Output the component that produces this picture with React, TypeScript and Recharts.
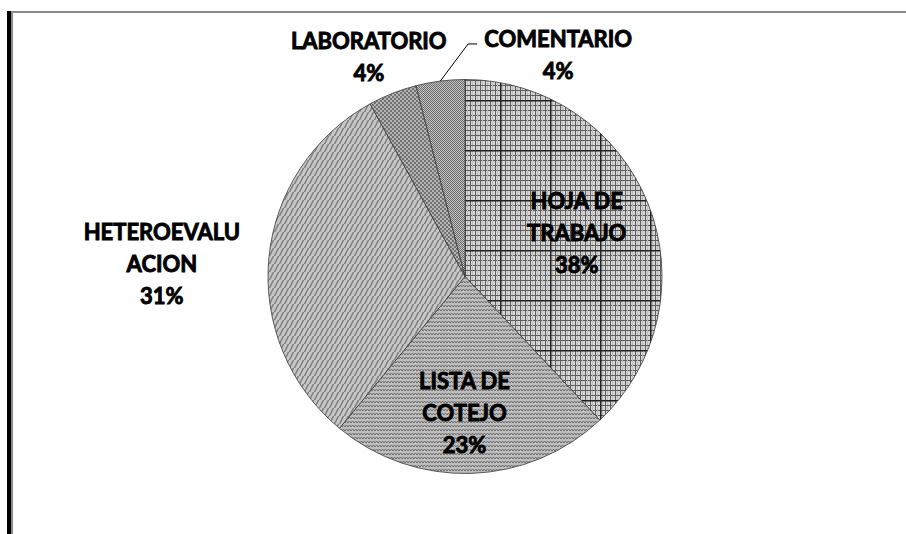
import React from 'react';
import { PieChart, Pie, Cell } from 'recharts';

const categories = ['HOJA DE TRABAJO', 'LISTA DE COTEJO', 'HETEROEVALUACION', 'LABORATORIO', 'COMENTARIO'];
const labelLines = [['HOJA DE', 'TRABAJO'], ['LISTA DE', 'COTEJO'], ['HETEROEVALU', 'ACION'], ['LABORATORIO'], ['COMENTARIO']];
const values = [38, 23, 31, 4, 4];
const patternIds = ['patHoja', 'patLista', 'patHetero', 'patLab', 'patCom'];

// label placement: radius factor and angle shift (degrees, counter-clockwise)
const labelPlacement = [
  { r: 0.61, shift: 0 },
  { r: 0.69, shift: -2 },
  { r: 1.54, shift: 3 },
  { r: 1.22, shift: 2 },
  { r: 1.22, shift: -30 },
];

const data = categories.map((name, i) => ({ name, value: values[i], lines: labelLines[i] }));
const total = values.reduce((a, b) => a + b, 0);

const RAD = Math.PI / 180;
const FONT = 'Lato, "Liberation Sans", sans-serif';
const LINE_H = 32;

const renderLabel = (props: any) => {
  const { cx, cy, midAngle, outerRadius, index } = props;
  const p = labelPlacement[index];
  const a = (midAngle + p.shift) * RAD;
  const x = cx + outerRadius * p.r * Math.cos(a);
  const y = cy - outerRadius * p.r * Math.sin(a);
  const lines = [...labelLines[index], `${Math.round((values[index] / total) * 100)}%`];
  const n = lines.length;
  const y0 = y - ((n - 1) * LINE_H) / 2;
  let leader = null;
  if (index === 4) {
    const ex = cx + outerRadius * Math.cos(midAngle * RAD);
    const ey = cy - outerRadius * Math.sin(midAngle * RAD);
    const endX = x - 81;
    const endY = y0 + 5;
    leader = (
      <polyline
        points={`${ex},${ey} ${endX - 9},${endY} ${endX},${endY}`}
        fill="none"
        stroke="#000"
        strokeWidth={1}
      />
    );
  }
  return (
    <g key={`lbl-${index}`}>
      {leader}
      {lines.map((t, i) => (
        <text
          key={i}
          x={x}
          y={y0 + i * LINE_H}
          textAnchor="middle"
          dominantBaseline="central"
          fontFamily={FONT}
          fontWeight={700}
          fontSize={22}
          fill="#000"
          stroke="#000"
          strokeWidth={0.9}
        >
          {t}
        </text>
      ))}
    </g>
  );
};

export default function App() {
  return (
    <div style={{ position: 'absolute', left: 0, top: 0, width: 906, height: 534, background: '#fff' }}>
      <svg width={0} height={0} style={{ position: 'absolute' }}>
        <defs>
          <pattern id="patHoja" patternUnits="userSpaceOnUse" width={50} height={50}>
            <rect width={50} height={50} fill="#d6d6d6" />
            {[0, 5, 10, 15, 20, 25, 30, 35, 40, 45].map((v) => (
              <g key={v}>
                <rect x={v + 2} y={0} width={1} height={50} fill="#bcbcbc" />
                <rect x={v} y={0} width={1} height={50} fill="#5e5e5e" />
                <rect x={0} y={v} width={50} height={1} fill="#5e5e5e" />
              </g>
            ))}
            <rect x={0} y={0} width={1.5} height={50} fill="#222" />
            <rect x={0} y={0} width={50} height={1.5} fill="#222" />
          </pattern>
          <pattern id="patLista" patternUnits="userSpaceOnUse" width={6} height={4}>
            <rect width={6} height={4} fill="#bdbdbd" />
            <polyline points="0,3 1.5,1 3,3 4.5,1 6,3" fill="none" stroke="#6e6e6e" strokeWidth={1} />
          </pattern>
          <pattern id="patHetero" patternUnits="userSpaceOnUse" width={5} height={8}>
            <rect width={5} height={8} fill="#c8c8c8" />
            <line x1={-1} y1={9} x2={4} y2={-1} stroke="#808080" strokeWidth={1.6} />
            <line x1={4} y1={9} x2={9} y2={-1} stroke="#808080" strokeWidth={1.6} />
          </pattern>
          <pattern id="patLab" patternUnits="userSpaceOnUse" width={4} height={4}>
            <rect width={4} height={4} fill="#b4b4b4" />
            <rect x={0} y={0} width={2} height={2} fill="#727272" />
            <rect x={2} y={2} width={2} height={2} fill="#727272" />
          </pattern>
          <pattern id="patCom" patternUnits="userSpaceOnUse" width={2} height={2}>
            <rect width={2} height={2} fill="#c4c4c4" />
            <rect x={0} y={0} width={1} height={1} fill="#6c6c6c" />
            <rect x={1} y={1} width={1} height={1} fill="#6c6c6c" />
          </pattern>
        </defs>
      </svg>
      {/* frame */}
      <div style={{ position: 'absolute', left: 7, top: 11, width: 4, height: 523, background: '#000' }} />
      <div style={{ position: 'absolute', left: 11, top: 11, width: 2, height: 523, background: '#8a8a8a' }} />
      <div style={{ position: 'absolute', left: 11, top: 11, width: 895, height: 2, background: '#8a8a8a' }} />
      <div style={{ position: 'absolute', left: 0, top: 0 }}>
        <PieChart width={906} height={534} margin={{ top: 0, right: 0, bottom: 0, left: 0 }}>
          <Pie
            data={data}
            dataKey="value"
            nameKey="name"
            cx={465}
            cy={276.5}
            innerRadius={0}
            outerRadius={197}
            startAngle={90}
            endAngle={-270}
            stroke="#3a3a3a"
            strokeWidth={0.8}
            label={renderLabel}
            labelLine={false}
            isAnimationActive={false}
          >
            {data.map((d, i) => (
              <Cell key={d.name} fill={`url(#${patternIds[i]})`} />
            ))}
          </Pie>
        </PieChart>
      </div>
    </div>
  );
}
